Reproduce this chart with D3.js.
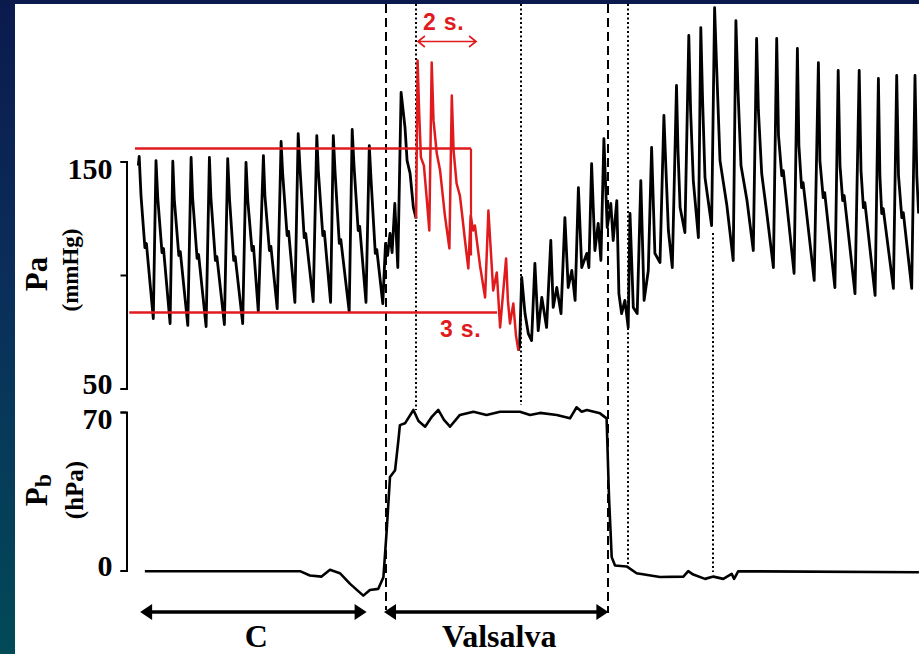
<!DOCTYPE html>
<html><head><meta charset="utf-8">
<script src="https://cdn.jsdelivr.net/npm/d3@7/dist/d3.min.js"></script>
<style>html,body{margin:0;padding:0;overflow:hidden;background:#0a1b4d}svg{display:block}</style>
</head><body><svg id="chart" width="919" height="654"></svg>
<script>
// ---------- DATA (time in s, Pa in mmHg, Pb in hPa) ----------
const paTime = [
0.01, 0.04, 0.1, 0.23, 0.28, 0.51,
0.6, 0.66, 0.8, 0.85, 1.07,
1.16, 1.21, 1.36, 1.41, 1.66,
1.77, 1.82, 1.97, 2.02, 2.27,
2.38, 2.43, 2.58, 2.63, 2.88,
2.99, 3.05, 3.19, 3.24, 3.49,
3.6, 3.66, 3.8, 3.85, 4.01,
4.18, 4.23, 4.38, 4.43, 4.64,
4.77, 4.82, 4.97, 5.02, 5.23,
5.34, 5.4, 5.54, 5.59, 5.84,
5.96, 6.01, 6.16, 6.21, 6.42,
6.51, 6.57, 6.71, 6.76, 7.04,
7.14, 7.2, 7.34, 7.39, 7.6,
7.71, 7.77, 7.91, 7.96, 8.16,
8.25, 8.32, 8.4, 8.47, 8.56, 8.66,
8.77, 8.9, 8.97, 9.07, 9.18, 9.27,
9.32, 9.37, 9.43, 9.53, 9.63, 9.71,
9.79, 9.85, 9.96, 10.07, 10.23, 10.38,
10.46, 10.52, 10.62, 10.73, 10.8, 10.9, 11.01,
11.09, 11.17, 11.23, 11.4, 11.57,
11.68, 11.77, 11.84, 11.96, 12.07,
12.27, 12.33, 12.4, 12.51, 12.6, 12.68,
12.72, 12.79, 12.9, 13.01, 13.12, 13.23, 13.34, 13.46, 13.62, 13.76,
13.84, 13.96, 14.1, 14.23, 14.34, 14.46, 14.57, 14.68, 14.79, 14.96,
15.03, 15.12, 15.23, 15.34, 15.43, 15.53, 15.64, 15.76, 15.84, 15.96,
16.03, 16.12, 16.23, 16.34, 16.4, 16.51, 16.64, 16.76, 16.87, 17.01,
17.12, 17.23, 17.4,
17.53, 17.6, 17.68, 17.81,
17.95, 18.0, 18.07, 18.23,
18.36, 18.42, 18.51, 18.68,
18.76, 18.82, 18.9, 19.12,
19.22, 19.28, 19.4, 19.63, 19.84,
19.93, 20.0, 20.1, 20.3, 20.51,
20.62, 20.68, 20.79, 20.97, 21.18,
21.29, 21.35, 21.46, 21.51, 21.87,
21.98, 22.03, 22.12, 22.17, 22.54,
22.68, 22.73, 22.84, 22.89, 23.23,
23.34, 23.4, 23.49, 23.54, 23.9,
24.04, 24.1, 24.18, 24.23, 24.57,
24.68, 24.73, 24.79, 24.84, 25.18,
25.29, 25.35, 25.46, 25.51, 25.79,
25.9, 25.96, 26.02
];
const paValue = [
148.2, 152.2, 135.0, 112.1, 113.9, 80.8,
150.4, 133.7, 109.9, 111.7, 78.6,
150.1, 133.3, 108.6, 110.3, 77.8,
151.8, 134.1, 107.3, 109.0, 77.3,
151.8, 134.1, 106.4, 108.1, 78.2,
151.3, 133.7, 106.4, 108.1, 78.6,
149.6, 132.8, 110.8, 112.6, 83.9,
152.6, 135.0, 110.8, 112.6, 85.2,
158.8, 145.1, 117.4, 119.2, 87.9,
162.3, 146.9, 116.5, 118.3, 88.3,
161.4, 146.0, 117.4, 119.2, 87.9,
161.4, 145.1, 113.9, 115.6, 83.9,
164.1, 148.2, 119.6, 121.4, 87.9,
157.0, 141.6, 109.5, 111.2, 87.4,
113.9, 108.6, 118.3, 109.9, 131.5, 103.3,
180.4, 165.0, 150.4, 144.7, 129.7, 124.9,
194.5, 172.5, 151.8, 148.2, 132.8, 119.6,
193.6, 168.1, 153.5, 146.0, 126.2, 111.7,
179.1, 154.8, 140.3, 135.0, 127.1, 115.2, 102.9,
126.2, 119.6, 121.8, 104.2, 90.1,
128.4, 108.6, 93.2, 101.1, 76.9,
107.3, 88.8, 78.6, 87.4, 73.3, 66.7,
68.9, 98.9, 83.0, 74.2, 71.1, 105.1, 75.5, 90.1, 76.9, 115.2,
85.7, 94.5, 83.0, 125.3, 94.5, 102.0, 88.8, 138.5, 103.3, 109.5,
103.3, 149.1, 110.8, 122.7, 106.4, 160.1, 120.9, 131.5, 115.2, 132.8,
91.8, 83.0, 88.8, 76.9, 127.1, 85.7, 83.0, 141.6, 88.8, 102.0,
156.2, 109.5, 105.5,
170.3, 146.0, 119.6, 103.3,
183.5, 154.8, 129.7, 118.7,
205.5, 172.5, 141.6, 116.5,
209.0, 176.9, 142.9, 121.8,
217.8, 194.5, 150.4, 130.6, 106.4,
212.1, 181.3, 148.2, 132.8, 110.8,
204.2, 172.5, 144.7, 126.2, 103.3,
204.2, 161.4, 143.8, 146.0, 100.7,
199.8, 157.0, 138.5, 140.7, 97.6,
193.6, 150.4, 134.1, 136.3, 94.5,
190.1, 148.2, 132.8, 135.0, 91.8,
190.1, 146.0, 129.7, 131.9, 91.0,
186.6, 143.8, 127.1, 129.3, 94.1,
187.9, 143.8, 125.3, 127.5, 94.1,
187.9, 143.8, 127.1
];
const redSpan = [9.27, 12.68];           // highlighted (red) part of the Pa trace, s

const pbTime = [0.23, 5.4, 5.73, 6.12, 6.4, 6.73, 7.07, 7.51, 7.73, 8.01,
  8.18, 8.29, 8.4, 8.57, 8.68, 8.73, 8.9, 9.18, 9.35, 9.57,
  9.8, 10.01, 10.2, 10.4, 10.73, 11.18, 11.62, 12.07, 12.73, 13.07,
  13.4, 13.96, 14.4, 14.62, 14.79, 14.96, 15.4, 15.62, 15.7, 15.79,
  15.9, 16.29, 16.62, 17.4, 18.18, 18.34, 18.51, 18.9, 19.18, 19.51,
  19.79, 19.87, 20.01, 26.03];
const pbValue = [-0.3, -0.3, -2.2, -2.7, 0.3, -1.2, -5.9, -11.1, -8.6, -8.1,
  -3.0, 17.7, 41.3, 44.3, 57.6, 64.2, 65.0, 70.9, 66.0, 63.5,
  68.0, 70.9, 66.5, 63.5, 68.7, 70.1, 68.7, 70.1, 70.1, 68.7,
  69.6, 68.7, 67.2, 72.1, 70.1, 70.9, 69.4, 67.2, 32.5, 5.9,
  2.2, 1.8, -1.2, -2.9, -2.7, -0.3, -1.8, -3.7, -2.7, -3.7,
  -1.5, -3.7, -0.3, -0.8];

const paTicks = [50, 100, 150];
const paTickLabels = ["50", "", "150"];
const pbTicks = [0, 70];
const pbTickLabels = ["0", "70"];

const markerTime = [8.27, 9.28, 12.78, 15.67, 16.33, 19.17];
const markerKind = ["dash", "dot", "dot", "dash", "dot", "dot"];

const refLevels = [155.7, 83.5];          // red horizontal reference lines, mmHg
const refStart = [-0.1, -0.29];
const refEnd = [11.1, 11.97];
const bracketLow = 108.6;                 // lower end of the red vertical bracket, mmHg
const spanArrow = [9.33, 11.27];          // "2 s." arrow
const spanLabels = ["2 s.", "3 s."];

const phaseLabel = ["C", "Valsalva"];
const phaseStart = [0.07, 8.2];
const phaseEnd = [7.62, 15.68];

// ---------- LAYOUT ----------
const W = 919, H = 654;
const svg = d3.select("#chart");
const RED = "#e01b1d";
const serif = "'Liberation Serif','Times New Roman',serif";
const sans = "'Liberation Sans',Arial,sans-serif";

const x = d3.scaleLinear().domain([0, 26]).range([138, 918]);
const yPa = d3.scaleLinear().domain([50, 150]).range([388.5, 161.5]);
const yPb = d3.scaleLinear().domain([0, 70]).range([570.5, 412]);
const crisp = v => Math.round(v - 0.5) + 0.5;

const defs = svg.append("defs");
const g1 = defs.append("linearGradient").attr("id", "bg").attr("x1", 0).attr("y1", 0).attr("x2", 0).attr("y2", 1);
g1.append("stop").attr("offset", "0%").attr("stop-color", "#0b1a4e");
g1.append("stop").attr("offset", "45%").attr("stop-color", "#0a2f5a");
g1.append("stop").attr("offset", "100%").attr("stop-color", "#014a58");
defs.append("clipPath").attr("id", "panel").append("rect")
  .attr("x", 15).attr("y", 4).attr("width", W - 15).attr("height", H - 4);

svg.append("rect").attr("width", W).attr("height", H).attr("fill", "url(#bg)");
svg.append("rect").attr("x", 0).attr("y", 0).attr("width", W).attr("height", 4).attr("fill", "#0a1a4d");
svg.append("rect").attr("x", 15).attr("y", 4).attr("width", W - 15).attr("height", H - 4).attr("fill", "#ffffff");

const plot = svg.append("g").attr("clip-path", "url(#panel)");

// vertical event markers
const markerExtent = [[4, 610], [4, 410], [4, 405], [4, 613], [4, 565], [233, 572]];
markerTime.forEach((t, i) => {
  const xx = Math.round(x(t));
  plot.append("line")
    .attr("x1", xx).attr("x2", xx)
    .attr("y1", markerExtent[i][0]).attr("y2", markerExtent[i][1])
    .attr("stroke", "#000")
    .attr("stroke-width", 2)
    .attr("stroke-dasharray", markerKind[i] === "dash" ? "9,5" : "2,2.5");
});

// Pa trace
const pts = paTime.map((t, i) => ({ t, v: paValue[i] }));
const paLine = d3.line().x(d => x(d.t)).y(d => yPa(d.v));
const seg1 = pts.filter(d => d.t <= redSpan[0]);
const segR = pts.filter(d => d.t >= redSpan[0] && d.t <= redSpan[1]);
const seg2 = pts.filter(d => d.t >= redSpan[1]);
[seg1, seg2].forEach(s => plot.append("path").attr("d", paLine(s))
  .attr("fill", "none").attr("stroke", "#000").attr("stroke-width", 2.8)
  .attr("stroke-linejoin", "round"));
plot.append("path").attr("d", paLine(segR))
  .attr("fill", "none").attr("stroke", RED).attr("stroke-width", 2.5)
  .attr("stroke-linejoin", "round");

// Pb trace
const pbPts = pbTime.map((t, i) => ({ t, v: pbValue[i] }));
plot.append("path").attr("d", d3.line().x(d => x(d.t)).y(d => yPb(d.v))(pbPts))
  .attr("fill", "none").attr("stroke", "#000").attr("stroke-width", 2.6)
  .attr("stroke-linejoin", "round");

// red reference lines & bracket
refLevels.forEach((v, i) => {
  plot.append("line").attr("x1", x(refStart[i])).attr("x2", x(refEnd[i]))
    .attr("y1", yPa(v)).attr("y2", yPa(v))
    .attr("stroke", RED).attr("stroke-width", 2.6);
});
plot.append("line").attr("x1", x(refEnd[0])).attr("x2", x(refEnd[0]))
  .attr("y1", yPa(refLevels[0])).attr("y2", yPa(bracketLow))
  .attr("stroke", RED).attr("stroke-width", 2.2);

// 2 s. arrow
const ay = 41.5, ax1 = x(spanArrow[0]), ax2 = x(spanArrow[1]);
plot.append("path")
  .attr("d", `M${ax1},${ay}H${ax2}M${ax1 + 7},${ay - 5.5}L${ax1},${ay}L${ax1 + 7},${ay + 5.5}M${ax2 - 7},${ay - 5.5}L${ax2},${ay}L${ax2 - 7},${ay + 5.5}`)
  .attr("fill", "none").attr("stroke", RED).attr("stroke-width", 1.6);
plot.append("text").attr("x", 423).attr("y", 30).text(spanLabels[0])
  .attr("fill", RED).attr("font-family", sans).attr("font-weight", "bold")
  .attr("font-size", 23).attr("letter-spacing", 0.8);
plot.append("text").attr("x", 440).attr("y", 337).text(spanLabels[1])
  .attr("fill", RED).attr("font-family", sans).attr("font-weight", "bold")
  .attr("font-size", 23).attr("letter-spacing", 0.8);

// axes
function styleAxis(g, topDy, botDy) {
  g.select(".domain").attr("stroke", "#000").attr("stroke-width", 2);
  g.selectAll(".tick line").attr("stroke", "#000").attr("stroke-width", 2);
  const texts = g.selectAll(".tick text")
    .attr("font-family", serif).attr("font-weight", "bold")
    .attr("font-size", 30).attr("fill", "#000");
  texts.attr("dy", function(d, i, n) { return i === n.length - 1 ? topDy : botDy; });
}
const paAxis = svg.append("g").attr("transform", "translate(126.5,0)")
  .call(d3.axisLeft(yPa).tickValues(paTicks).tickSize(6).tickSizeOuter(6).tickPadding(8)
    .tickFormat((d, i) => paTickLabels[i]));
styleAxis(paAxis, "0.58em", "0.17em");
const pbAxis = svg.append("g").attr("transform", "translate(126.5,0)")
  .call(d3.axisLeft(yPb).tickValues(pbTicks).tickSize(6).tickSizeOuter(6).tickPadding(8)
    .tickFormat((d, i) => pbTickLabels[i]));
styleAxis(pbAxis, "0.54em", "0.15em");

// axis titles (rotated)
svg.append("text").attr("transform", "translate(47,274) rotate(-90)")
  .attr("text-anchor", "middle").attr("font-family", serif).attr("font-weight", "bold")
  .attr("font-size", 31).text("Pa");
svg.append("text").attr("transform", "translate(78,270) rotate(-90)")
  .attr("text-anchor", "middle").attr("font-family", serif).attr("font-weight", "bold")
  .attr("font-size", 23).text("(mmHg)");
const pbT = svg.append("text").attr("transform", "translate(47,490) rotate(-90)")
  .attr("text-anchor", "middle").attr("font-family", serif).attr("font-weight", "bold")
  .attr("font-size", 31);
pbT.append("tspan").text("P");
pbT.append("tspan").attr("font-size", 24).attr("dy", 4).text("b");
svg.append("text").attr("transform", "translate(83,490) rotate(-90)")
  .attr("text-anchor", "middle").attr("font-family", serif).attr("font-weight", "bold")
  .attr("font-size", 25).text("(hPa)");

// phase arrows
const py = 612;
phaseLabel.forEach((lab, i) => {
  const a = x(phaseStart[i]), b = x(phaseEnd[i]);
  svg.append("line").attr("x1", a + 8).attr("x2", b - 8).attr("y1", py).attr("y2", py)
    .attr("stroke", "#000").attr("stroke-width", 3.6);
  svg.append("path").attr("d", `M${a},${py}L${a + 12},${py - 8}L${a + 12},${py + 8}Z`).attr("fill", "#000");
  svg.append("path").attr("d", `M${b},${py}L${b - 12},${py - 8}L${b - 12},${py + 8}Z`).attr("fill", "#000");
  svg.append("text").attr("x", (a + b) / 2 + 3).attr("y", 647)
    .attr("text-anchor", "middle").attr("font-family", serif).attr("font-weight", "bold")
    .attr("font-size", 32).text(lab);
});
</script></body></html>
